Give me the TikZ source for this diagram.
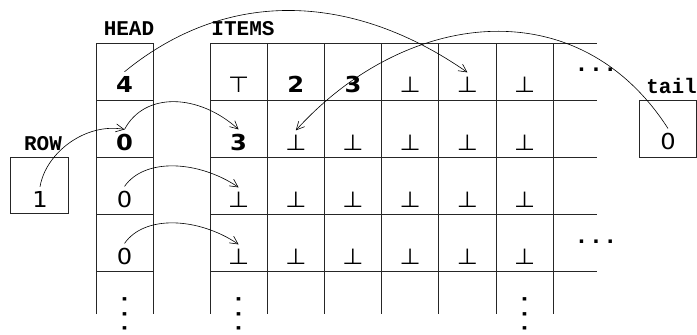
\documentclass[tikz,border=0pt]{standalone}
\usepackage{fontspec}
\newfontfamily\valfont[FakeStretch=1.1]{DejaVu Sans}
\newfontfamily\rotfont{Liberation Mono}
\usetikzlibrary{arrows.meta}
\tikzset
{
    grade/.style={line width=0.8pt, black!85}, % linhas da tabela
    valor/.style={anchor=base, inner sep=4pt, font=\valfont\fontsize{22}{22}\selectfont},
    valorb/.style={valor, font=\valfont\bfseries\fontsize{22}{22}\selectfont},
    rotulo/.style={anchor=base, inner sep=0pt, font=\rotfont\bfseries\fontsize{21}{21}\selectfont},
    pontos/.style={inner sep=0pt, font=\rotfont\bfseries\fontsize{24}{24}\selectfont},
    seta/.style={-{Straight Barb[length=8pt, width=8pt]}, line width=0.6pt},
}

\begin{document}
\begin{tikzpicture}[x=1pt, y=-1pt]
    \useasboundingbox (0,0) rectangle (697,335);

    % Tabelas
    \draw[grade] (96,314) -- (96,43) -- (153,43) -- (153,314);
    \foreach \y in {100,157,214,271} \draw[grade] (96,\y) -- (153,\y);
    \foreach \y in {43,100,157,214,271} \draw[grade] (210,\y) -- (597,\y);
    \foreach \x in {210,267.2,324.4,381.6,438.8,496,553.2} \draw[grade] (\x,43) -- (\x,314);
    \draw[grade] (10,157) rectangle (68,213);
    \draw[grade] (639,100) rectangle (696,157);

    % Rótulos
    \node[rotulo] (lhead) at (129,35) {HEAD};
    \node[rotulo] (litems) at (243,35) {ITEMS};
    \node[rotulo] (lrow) at (43,150) {ROW};
    \node[rotulo, anchor=base east] (ltail) at (697,93) {tail};

    % Valores
    \node[valor] (row) at (40,207) {1};
    \node[valor] (tail) at (668,149) {0};
    \node[valorb] (h1) at (124.5,92) {4};
    \node[valorb] (h2) at (124.5,150) {0};
    \node[valor] (h3) at (124.5,207) {0};
    \node[valor] (h4) at (124.5,264) {0};

    \node[valor] (i11) at (238.6,92) {⊤};
    \node[valorb] (i12) at (295.8,92) {2};
    \node[valorb] (i13) at (353,92) {3};
    \foreach \c/\x in {4/410.2,5/467.4,6/524.6} \node[valor] (i1\c) at (\x,92) {⊥};
    \node[valorb] (i21) at (238.6,150) {3};
    \foreach \c/\x in {2/295.8,3/353,4/410.2,5/467.4,6/524.6} \node[valor] (i2\c) at (\x,150) {⊥};
    \foreach \r/\y in {3/207,4/264}
        \foreach \c/\x in {1/238.6,2/295.8,3/353,4/410.2,5/467.4,6/524.6}
            \node[valor] (i\r\c) at (\x,\y) {⊥};

    % Reticências
    \node[pontos] (dots1) at (596,70) {...};
    \node[pontos] (dots2) at (596,242) {...};
    \node[pontos, rotate=90] (vdots1) at (124.5,314) {...};
    \node[pontos, rotate=90] (vdots2) at (238.6,314) {...};
    \node[pontos, rotate=90] (vdots3) at (524.6,314) {...};

    % Ponteiros
    \draw[seta] (h1.north) .. controls +(105,-86) and +(-112,-78) .. (i15.north);
    \draw[seta] (tail.north) .. controls +(-90,-140) and +(110,-121) .. (i22.north);
    \draw[seta] (row.north) .. controls +(6,-35) and +(-38,-7) .. (h2.north);
    \draw[seta] (h2.north) .. controls +(20,-38) and +(-40,-36) .. (i21.north);
    \draw[seta] (h3.north) .. controls +(20,-29) and +(-40,-27) .. (i31.north);
    \draw[seta] (h4.north) .. controls +(20,-29) and +(-40,-27) .. (i41.north);
\end{tikzpicture}
\end{document}
